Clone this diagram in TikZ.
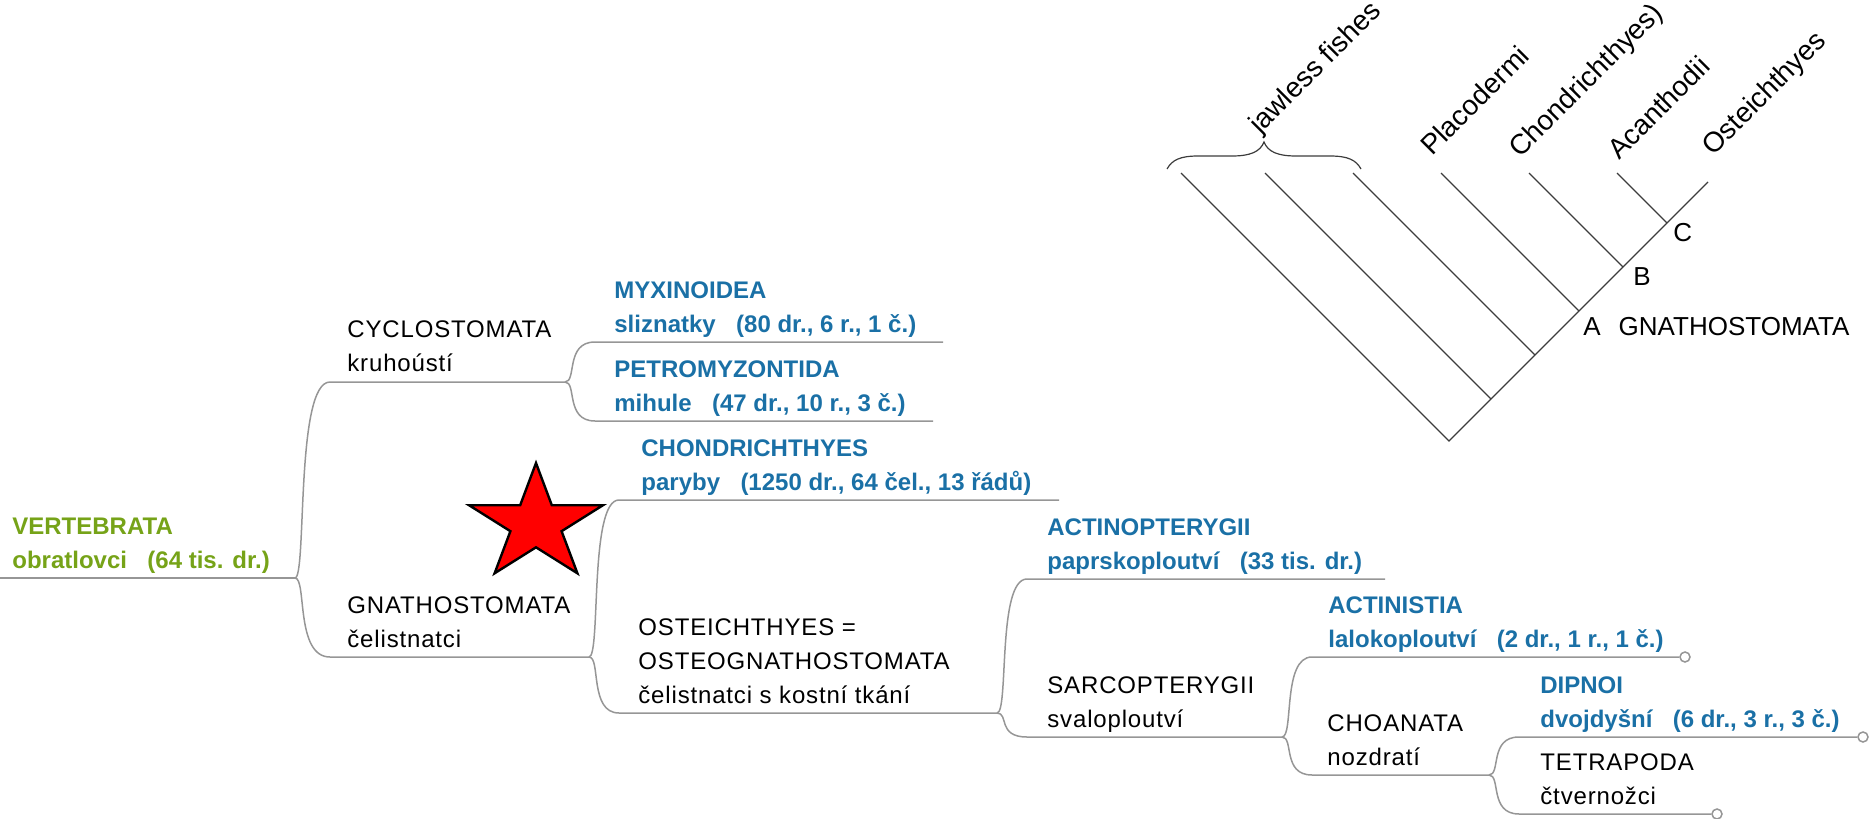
\documentclass[tikz,border=0pt]{standalone}
\usepackage{fontspec}
\setmainfont{Liberation Sans}
\newfontfamily\spacedsans{Liberation Sans}[LetterSpace=3.5]
\usetikzlibrary{calc}
\definecolor{vgreen}{RGB}{118,163,24}
\definecolor{tblue}{RGB}{26,112,166}
\definecolor{linegray}{RGB}{150,150,150}
\definecolor{cladink}{RGB}{60,60,60}
\newcommand{\gp}{\hspace{0.85em}}
\begin{document}
\begin{tikzpicture}[x=0.5pt, y=-0.5pt,
  conn/.style={draw=linegray, line width=0.75pt},
  clad/.style={draw=cladink, line width=0.6pt},
  branch/.style={to path={.. controls ($(\tikztostart)+(12,0)$) and (\tikztostart|-\tikztotarget) .. (\tikztotarget) \tikztonodes}},
  lbl/.style={anchor=base west, inner sep=0pt, font=\fontsize{12}{14}\selectfont},
  grp/.style={lbl, text=black, font=\fontsize{12}{14}\spacedsans\selectfont},
  taxon/.style={lbl, text=tblue, font=\fontsize{12}{14}\selectfont\bfseries},
  rootlbl/.style={lbl, text=vgreen, font=\fontsize{12}{14}\selectfont\bfseries},
  leafdot/.style={circle, draw=linegray, line width=0.75pt, fill=white, minimum size=5pt, inner sep=0pt},
  clabel/.style={anchor=base west, inner sep=0pt, font=\fontsize{13}{15}\selectfont},
  rlabel/.style={anchor=base west, inner sep=0pt, rotate=45, font=\fontsize{14}{16}\selectfont},
]
\useasboundingbox (0,0) rectangle (1870,819);

% ---------- classification tree: line start (S) and end (E) of every taxon ----------
\coordinate (vertS) at (0,578);    \coordinate (vertE) at (295,578);
\coordinate (cycS)  at (330,382);  \coordinate (cycE)  at (565,382);
\coordinate (gnaS)  at (330,657);  \coordinate (gnaE)  at (589,657);
\coordinate (myxS)  at (595,342);  \coordinate (myxE)  at (943,342);
\coordinate (petS)  at (595,421);  \coordinate (petE)  at (933,421);
\coordinate (choS)  at (619,500);  \coordinate (choE)  at (1059,500);
\coordinate (ostS)  at (619,713);  \coordinate (ostE)  at (997,713);
\coordinate (actS)  at (1027,579); \coordinate (actE)  at (1385,579);
\coordinate (sarS)  at (1027,737); \coordinate (sarE)  at (1282,737);
\coordinate (acsS)  at (1312,657); \node[leafdot] (acsE) at (1685,657) {};
\coordinate (choaS) at (1312,775); \coordinate (choaE) at (1489,775);
\coordinate (dipS)  at (1519,737); \node[leafdot] (dipE) at (1863,737) {};
\coordinate (tetS)  at (1519,814); \node[leafdot] (tetE) at (1717,814) {};

\draw[conn] (vertS) -- (vertE);
\draw[conn] (vertE) to[branch] (cycS) -- (cycE);
\draw[conn] (vertE) to[branch] (gnaS) -- (gnaE);
\draw[conn] (cycE) to[branch] (myxS) -- (myxE);
\draw[conn] (cycE) to[branch] (petS) -- (petE);
\draw[conn] (gnaE) to[branch] (choS) -- (choE);
\draw[conn] (gnaE) to[branch] (ostS) -- (ostE);
\draw[conn] (ostE) to[branch] (actS) -- (actE);
\draw[conn] (ostE) to[branch] (sarS) -- (sarE);
\draw[conn] (sarE) to[branch] (acsS) -- (acsE);
\draw[conn] (sarE) to[branch] (choaS) -- (choaE);
\draw[conn] (choaE) to[branch] (dipS) -- (dipE);
\draw[conn] (choaE) to[branch] (tetS) -- (tetE);

% ---------- labels ----------
\node[rootlbl] (vert1) at (12,534) {VERTEBRATA};
\node[rootlbl] (vert2) at (12,568) {obratlovci\gp(64 tis. dr.)};
\node[grp] (cyc1) at (347,337) {CYCLOSTOMATA};
\node[grp] (cyc2) at (347,371) {kruhoústí};
\node[grp] (gna1) at (347,613) {GNATHOSTOMATA};
\node[grp] (gna2) at (347,647) {čelistnatci};
\node[taxon] (myx1) at (614,298) {MYXINOIDEA};
\node[taxon] (myx2) at (614,332) {sliznatky\gp(80 dr., 6 r., 1 č.)};
\node[taxon] (pet1) at (614,377) {PETROMYZONTIDA};
\node[taxon] (pet2) at (614,411) {mihule\gp(47 dr., 10 r., 3 č.)};
\node[taxon] (cho1) at (641,456) {CHONDRICHTHYES};
\node[taxon] (cho2) at (641,490) {paryby\gp(1250 dr., 64 čel., 13 řádů)};
\node[grp] (ost1) at (638,635) {OSTEICHTHYES =};
\node[grp] (ost2) at (638,669) {OSTEOGNATHOSTOMATA};
\node[grp] (ost3) at (638,703) {čelistnatci s kostní tkání};
\node[taxon] (act1) at (1047,535) {ACTINOPTERYGII};
\node[taxon] (act2) at (1047,569) {paprskoploutví\gp(33 tis. dr.)};
\node[grp] (sar1) at (1047,693) {SARCOPTERYGII};
\node[grp] (sar2) at (1047,727) {svaloploutví};
\node[taxon] (acs1) at (1328,613) {ACTINISTIA};
\node[taxon] (acs2) at (1328,647) {lalokoploutví\gp(2 dr., 1 r., 1 č.)};
\node[grp] (choa1) at (1327,731) {CHOANATA};
\node[grp] (choa2) at (1327,765) {nozdratí};
\node[taxon] (dip1) at (1540,693) {DIPNOI};
\node[taxon] (dip2) at (1540,727) {dvojdyšní\gp(6 dr., 3 r., 3 č.)};
\node[grp] (tet1) at (1540,770) {TETRAPODA};
\node[grp] (tet2) at (1540,804) {čtvernožci};

% ---------- red star ----------
\draw[fill=red, draw=black, line width=1.2pt]
  (536,463) -- (520.2,505.2) -- (469,505.2) -- (510.4,531.2) -- (494.6,573.3)
  -- (536,547.3) -- (577.4,573.3) -- (561.6,531.2) -- (603,505.2) -- (551.8,505.2) -- cycle;

% ---------- cladogram ----------
\coordinate (root) at (1449,441);
\coordinate (j1) at (1491,399);
\coordinate (j2) at (1535,355);
\coordinate (j3) at (1579,311);
\coordinate (j4) at (1623,267);
\coordinate (j5) at (1667,223);
\coordinate (t0) at (1181,173);
\coordinate (t1) at (1265,173);
\coordinate (t2) at (1353,173);
\coordinate (t3) at (1441,173);
\coordinate (t4) at (1529,173);
\coordinate (t5) at (1617,173);
\coordinate (t6) at (1708,182);

\draw[clad] (t0) -- (root) -- (t6);
\draw[clad] (t1) -- (j1);
\draw[clad] (t2) -- (j2);
\draw[clad] (t3) -- (j3);
\draw[clad] (t4) -- (j4);
\draw[clad] (t5) -- (j5);

% brace over the jawless lineages
\draw[clad] (1167,169) .. controls (1172,160) and (1180,156) .. (1198,156) -- (1232,156)
  .. controls (1250,156) and (1260,152) .. (1264,142)
  .. controls (1268,152) and (1278,156) .. (1296,156) -- (1330,156)
  .. controls (1348,156) and (1356,160) .. (1361,169);

\node[rlabel] (jaw)  at (1260,135) {jawless fishes};
\node[rlabel] (plac) at (1432,157) {Placodermi};
\node[rlabel] (chon) at (1520,159) {Chondrichthyes)};
\node[rlabel] (acan) at (1619,161) {Acanthodii};
\node[rlabel] (oste) at (1713,157) {Osteichthyes};

\node[clabel] (labA) at (1583,335) {A\hspace{9pt}GNATHOSTOMATA};
\node[clabel] (labB) at (1633,285) {B};
\node[clabel] (labC) at (1673,241) {C};
\end{tikzpicture}
\end{document}
